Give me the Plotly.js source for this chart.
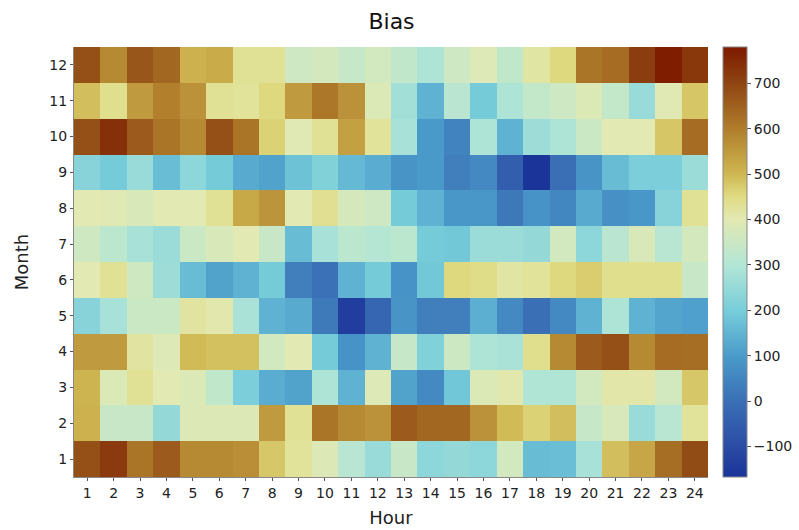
<!DOCTYPE html>
<html>
<head>
<meta charset="utf-8">
<script src="https://cdn.plot.ly/plotly-3.0.1.min.js"></script>
<style>html,body{margin:0;padding:0;background:#fff;}#chart{width:799px;height:530px;}</style>
</head>
<body>
<div id="chart"></div>
<script>
const hours = [1,2,3,4,5,6,7,8,9,10,11,12,13,14,15,16,17,18,19,20,21,22,23,24];
const months = [1,2,3,4,5,6,7,8,9,10,11,12];

const m1  = [680,720,615,660,580,580,570,478,425,388,312,255,342,235,248,235,365,165,170,280,490,530,628,690];
const m2  = [510,342,342,248,388,388,388,550,430,615,580,565,660,640,640,565,495,465,490,340,378,255,312,425];
const m3  = [505,385,430,400,385,330,205,135,115,290,145,390,115,60,185,385,405,295,295,365,410,410,365,478];
const m4  = [550,550,420,390,495,488,488,365,400,195,80,145,340,215,352,290,285,440,580,660,680,580,630,628];
const m5  = [225,280,350,350,420,405,285,145,130,25,-140,-25,85,35,35,140,60,0,60,145,290,145,120,110];
const m6  = [400,430,358,265,165,115,145,195,35,5,145,195,80,190,455,445,415,425,455,470,440,440,440,342];
const m7  = [358,320,280,260,350,380,400,342,165,280,320,305,320,195,190,260,260,248,365,235,315,380,312,370];
const m8  = [400,395,380,400,400,430,525,560,400,435,372,355,195,145,90,90,20,80,55,130,75,90,225,430];
const m9  = [225,195,255,168,235,195,130,115,178,215,160,135,85,95,35,60,-50,-165,0,85,165,205,205,260];
const m10 = [680,740,660,615,580,680,615,465,395,430,540,425,280,95,45,290,145,265,290,350,400,400,480,630];
const m11 = [490,440,550,595,565,430,425,455,550,610,565,385,270,145,315,195,290,335,355,385,335,255,395,480];
const m12 = [680,580,670,640,510,520,430,430,355,370,340,365,330,290,355,390,330,415,455,615,630,715,775,725];

const zRows = [m1,m2,m3,m4,m5,m6,m7,m8,m9,m10,m11,m12];

const zmin = -167, zmax = 780;
function pos(v){ return (v - zmin) / (zmax - zmin); }
const colorscale = [
  [0, '#1A3399'],
  [pos(-100), '#2B4CA5'],
  [pos(0), '#3A6FB5'],
  [pos(100), '#4A9BCA'],
  [pos(200), '#78CDDA'],
  [pos(300), '#B3E6D6'],
  [pos(400), '#E2E9B2'],
  [pos(450), '#E0DC84'],
  [pos(500), '#CFB752'],
  [pos(600), '#B07D2B'],
  [pos(700), '#8E4512'],
  [1, '#7E1A00']
];

const trace = {
  type: 'heatmap',
  x: hours,
  y: months,
  z: zRows,
  zmin: zmin,
  zmax: zmax,
  colorscale: colorscale,
  xgap: 0, ygap: 0,
  colorbar: {
    x: 1.0237, xanchor: 'left', xpad: 0,
    y: 0.5, yanchor: 'middle', ypad: 0,
    len: 1, lenmode: 'fraction',
    thickness: 24,
    outlinewidth: 1, outlinecolor: '#888',
    ticks: 'outside', ticklen: 4, tickcolor: '#555',
    tickvals: [-100,0,100,200,300,400,500,600,700],
    tickfont: {family: 'DejaVu Sans', size: 14, color: '#222'}
  }
};

const layout = {
  width: 799, height: 530,
  margin: {l: 74, r: 91, t: 47, b: 53, autoexpand: false},
  paper_bgcolor: '#fff', plot_bgcolor: '#fff',
  font: {family: 'DejaVu Sans', color: '#222'},
  title: {text: 'Bias', x: 0.49, xanchor: 'center', y: 0.975, yanchor: 'top', font: {family: 'DejaVu Sans', size: 22, color: '#111'}},
  xaxis: {
    title: {text: 'Hour', font: {size: 18, color: '#222'}, standoff: 11},
    tickvals: hours, ticktext: hours.map(String),
    tickfont: {size: 14, color: '#222'},
    ticks: 'outside', ticklen: 3, tickcolor: '#555',
    showline: true, linecolor: '#888', linewidth: 1,
    showgrid: false, zeroline: false, range: [0.5, 24.5]
  },
  yaxis: {
    title: {text: 'Month', font: {size: 18, color: '#222'}, standoff: 16},
    tickvals: months, ticktext: months.map(String),
    tickfont: {size: 14, color: '#222'},
    ticks: 'outside', ticklen: 3, tickcolor: '#555',
    showline: true, linecolor: '#888', linewidth: 1,
    showgrid: false, zeroline: false, range: [0.5, 12.5]
  }
};

Plotly.newPlot('chart', [trace], layout, {displayModeBar: false, staticPlot: true});
</script>
</body>
</html>
